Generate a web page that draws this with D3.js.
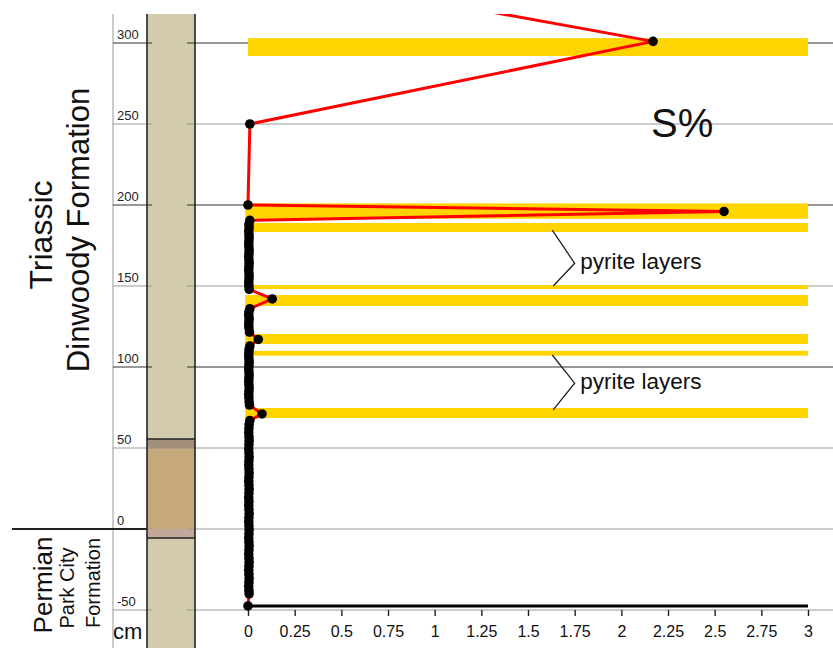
<!DOCTYPE html>
<html>
<head>
<meta charset="utf-8">
<script src="https://cdn.jsdelivr.net/npm/d3@7"></script>
<style>
  body { margin: 0; background: #fff; }
  svg { display: block; font-family: "Liberation Sans", Arial, sans-serif; }
</style>
</head>
<body>
<div id="chart"></div>
<script>
// sample depth (cm) and S% readings, top to bottom
const depthCm = [333, 301, 250, 200, 196, 190.5,
  188, 186, 184, 182, 180, 178, 176, 174, 172, 170, 168, 166, 164, 162, 160, 158, 156, 154, 152, 150, 148,
  142,
  136, 134, 132, 130, 128, 126, 124, 121.5,
  117,
  113, 111, 109, 107, 105, 103, 101, 99, 97, 95, 93, 91, 89, 87, 85, 83, 81, 78.5, 76.5,
  71,
  67, 64.5, 62, 59.5, 57, 54.5, 52, 49.5, 47, 44.5, 42, 39.5, 37, 34.5, 32, 29.5, 27, 24.5, 22, 19.5, 17,
  14.5, 12, 9.5, 7, 4.5, 2, -0.5, -3, -5.5, -8, -10.5, -13, -15.5, -18, -20.5, -23, -25.5, -28, -30.5,
  -33, -35.5, -38, -40,
  -47.5];
const sulfurPct = [0.64, 2.17, 0.01, 0.0, 2.55, 0.01,
  0.005, 0.006, 0.004, 0.005, 0.006, 0.005, 0.004, 0.005, 0.006, 0.005, 0.004, 0.005, 0.006, 0.005, 0.004, 0.005, 0.006, 0.005, 0.004, 0.005, 0.006,
  0.13,
  0.01, 0.005, 0.004, 0.006, 0.005, 0.004, 0.005, 0.008,
  0.055,
  0.01, 0.006, 0.005, 0.004, 0.005, 0.006, 0.005, 0.004, 0.005, 0.006, 0.005, 0.004, 0.005, 0.006, 0.005, 0.004, 0.005, 0.006, 0.008,
  0.075,
  0.01, 0.006, 0.005, 0.004, 0.005, 0.006, 0.005, 0.004, 0.005, 0.006, 0.005, 0.004, 0.005, 0.006, 0.005, 0.004, 0.005, 0.006, 0.005, 0.004, 0.005,
  0.004, 0.005, 0.006, 0.005, 0.004, 0.005, 0.006, 0.005, 0.004, 0.005, 0.006, 0.005, 0.004, 0.005, 0.006, 0.005, 0.004, 0.005, 0.006,
  0.005, 0.004, 0.005, 0.006,
  0.0];

// pyrite layers (cm from / to)
const pyriteFrom = [292, 191.5, 183.3, 148.1, 137.7, 114.2, 107, 68.5];
const pyriteTo   = [303, 201, 188.9, 150.6, 144.4, 120.4, 110, 74.7];
const pyriteStart = [0, -0.015, -0.015, -0.015, -0.015, -0.015, -0.015, -0.015];

// lithology column layers
const layerTop = [55.5, 49.5, 0];
const layerBottom = [49.5, 0, -5.5];
const layerColor = ["#a18f79", "#c5a97b", "#c4a79b"];

const depthTicks = [-50, 0, 50, 100, 150, 200, 250, 300];
const darkTicks = [100, 200, 300];
const sTicks = [0, 0.25, 0.5, 0.75, 1, 1.25, 1.5, 1.75, 2, 2.25, 2.5, 2.75, 3];

const w = 833, h = 648;
const plotTop = 14;

const svg = d3.select("#chart").append("svg")
  .attr("width", w)
  .attr("height", h);

const y = d3.scaleLinear().domain([-50, 300]).range([610, 43]);
const x = d3.scaleLinear().domain([0, 3]).range([248, 808]);

const colL = 147, colR = 195, axisX = 113;

// lithology column
svg.append("rect")
  .attr("x", colL).attr("y", plotTop)
  .attr("width", colR - colL).attr("height", h - plotTop)
  .attr("fill", "#d3cbad");

svg.selectAll("rect.layer")
  .data(layerTop)
  .join("rect")
  .attr("class", "layer")
  .attr("x", colL)
  .attr("y", d => y(d))
  .attr("width", colR - colL)
  .attr("height", (d, i) => y(layerBottom[i]) - y(d))
  .attr("fill", (d, i) => layerColor[i]);

svg.selectAll("line.layerb")
  .data([55.5, -5.5])
  .join("line")
  .attr("x1", colL).attr("x2", colR)
  .attr("y1", d => y(d)).attr("y2", d => y(d))
  .attr("stroke", "#222").attr("stroke-width", 1.5);

// left depth axis line
svg.append("line")
  .attr("x1", axisX).attr("x2", axisX)
  .attr("y1", plotTop).attr("y2", h)
  .attr("stroke", "#a8a8a8").attr("stroke-width", 1.2);

// gridlines
const grid = svg.append("g");
depthTicks.forEach(t => {
  const col = darkTicks.includes(t) ? "#333" : "#9a9a9a";
  grid.append("line")
    .attr("x1", axisX).attr("x2", colL + 5)
    .attr("y1", y(t)).attr("y2", y(t))
    .attr("stroke", col).attr("stroke-width", 1.2);
  grid.append("line")
    .attr("x1", colR - 8).attr("x2", w)
    .attr("y1", y(t)).attr("y2", y(t))
    .attr("stroke", col).attr("stroke-width", 1.2);
  grid.append("text")
    .attr("x", axisX + 4)
    .attr("y", y(t) - 4)
    .attr("font-size", 13)
    .attr("fill", "#222")
    .text(t);
});

// column edges
svg.selectAll("line.coledge")
  .data([colL, colR])
  .join("line")
  .attr("x1", d => d).attr("x2", d => d)
  .attr("y1", plotTop).attr("y2", h)
  .attr("stroke", "#222").attr("stroke-width", 1.6);

// formation boundary
svg.append("line")
  .attr("x1", 12).attr("x2", colL)
  .attr("y1", y(0)).attr("y2", y(0))
  .attr("stroke", "#222").attr("stroke-width", 2);

// pyrite bands
svg.selectAll("rect.pyrite")
  .data(pyriteFrom)
  .join("rect")
  .attr("class", "pyrite")
  .attr("x", (d, i) => x(pyriteStart[i]))
  .attr("y", (d, i) => y(pyriteTo[i]))
  .attr("width", (d, i) => x(3) - x(pyriteStart[i]))
  .attr("height", (d, i) => y(d) - y(pyriteTo[i]))
  .attr("fill", "#ffd400");

// x axis on the -50 line
const xAxis = svg.append("g")
  .attr("transform", `translate(0,${y(-50)})`)
  .call(d3.axisBottom(x).tickValues(sTicks).tickSize(6).tickPadding(10)
    .tickFormat(d => String(d)));
xAxis.select(".domain").remove();
xAxis.selectAll(".tick line").attr("stroke", "#222").attr("stroke-width", 1.4);
xAxis.selectAll(".tick text")
  .attr("font-size", 16)
  .attr("font-family", "Liberation Sans, Arial, sans-serif")
  .attr("fill", "#111");

// bottom black baseline
svg.append("line")
  .attr("x1", x(0)).attr("x2", x(3))
  .attr("y1", y(-47.5)).attr("y2", y(-47.5))
  .attr("stroke", "#000").attr("stroke-width", 3);

// data
svg.append("clipPath").attr("id", "clip")
  .append("rect").attr("x", 0).attr("y", plotTop).attr("width", w).attr("height", h - plotTop);

const pts = depthCm.map((d, i) => ({ depth: d, s: sulfurPct[i] }));
const dataG = svg.append("g").attr("clip-path", "url(#clip)");

dataG.append("path")
  .datum(pts)
  .attr("fill", "none")
  .attr("stroke", "#ff0000")
  .attr("stroke-width", 3)
  .attr("stroke-linejoin", "round")
  .attr("d", d3.line().x(d => x(d.s)).y(d => y(d.depth)));

dataG.selectAll("circle")
  .data(pts)
  .join("circle")
  .attr("cx", d => x(d.s))
  .attr("cy", d => y(d.depth))
  .attr("r", 4.8)
  .attr("fill", "#000");

// pyrite labels with brackets
const labels = [
  { top: 184.5, mid: 164, bottom: 150, text: "pyrite layers" },
  { top: 107.4, mid: 90, bottom: 73.5, text: "pyrite layers" }
];
labels.forEach(l => {
  svg.append("path")
    .attr("d", `M${x(1.63)},${y(l.top)} L${x(1.75)},${y(l.mid)} L${x(1.635)},${y(l.bottom)}`)
    .attr("fill", "none")
    .attr("stroke", "#222")
    .attr("stroke-width", 1.3);
  svg.append("text")
    .attr("x", x(1.78))
    .attr("y", y(l.mid) + 6)
    .attr("font-size", 22.5)
    .attr("fill", "#111")
    .text(l.text);
});

// S% title
svg.append("text")
  .attr("x", 651).attr("y", 137)
  .attr("font-size", 40)
  .attr("fill", "#111")
  .text("S%");

// formation labels (rotated)
function vText(tx, ty, size, str) {
  svg.append("text")
    .attr("transform", `translate(${tx},${ty}) rotate(-90)`)
    .attr("text-anchor", "middle")
    .attr("font-size", size)
    .attr("fill", "#111")
    .text(str);
}
vText(52, 235, 32, "Triassic");
vText(89, 230, 31, "Dinwoody Formation");
vText(52, 585, 26, "Permian");
vText(74, 588, 20, "Park City");
vText(100, 583, 20, "Formation");

svg.append("text")
  .attr("x", 113).attr("y", 639)
  .attr("font-size", 22)
  .attr("fill", "#111")
  .text("cm");
</script>
</body>
</html>
